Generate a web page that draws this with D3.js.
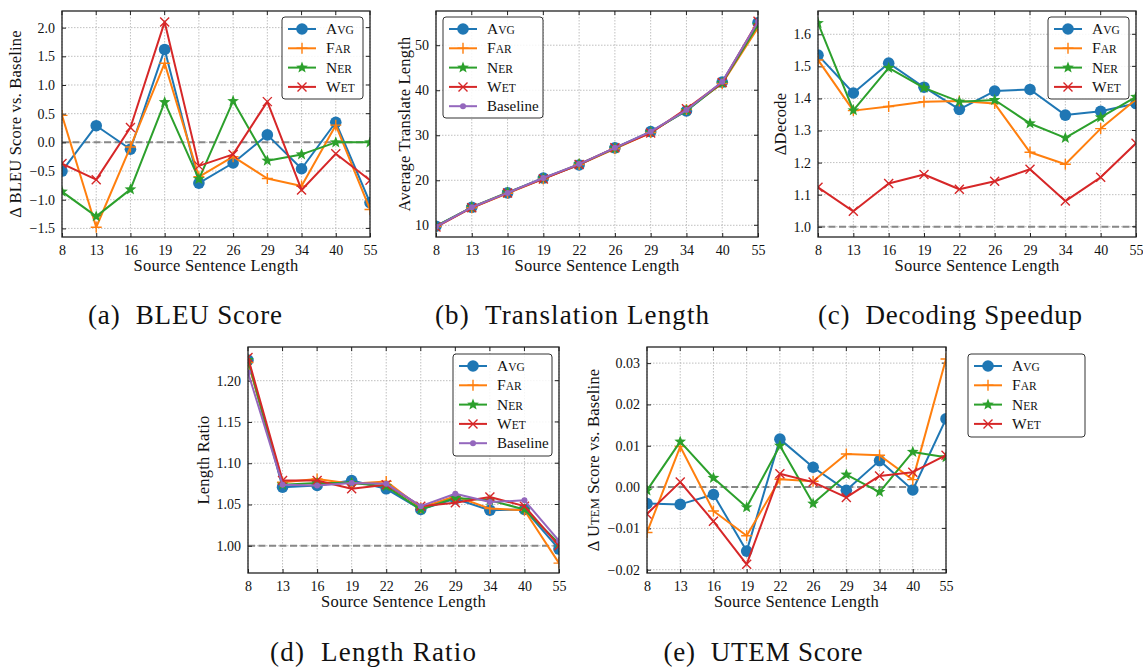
<!DOCTYPE html>
<html>
<head>
<meta charset="utf-8">
<script src="https://cdn.jsdelivr.net/npm/d3@7"></script>
<style>
  body { margin: 0; background: #fff; }
  svg { display: block; font-family: "Liberation Serif", "DejaVu Serif", serif; }
</style>
</head>
<body>
<svg width="1143" height="667"></svg>
<script>
// source sentence length buckets (categorical x axis)
var lengths = ["8", "13", "16", "19", "22", "26", "29", "34", "40", "55"];

// (a) BLEU delta vs baseline
var bleuAvg = [-0.50, 0.29, -0.12, 1.62, -0.71, -0.36, 0.13, -0.46, 0.35, -1.05];
var bleuFar = [0.47, -1.48, -0.08, 1.38, -0.60, -0.25, -0.63, -0.76, 0.30, -1.17];
var bleuNer = [-0.86, -1.29, -0.82, 0.70, -0.64, 0.72, -0.32, -0.21, 0.00, 0.00];
var bleuWet = [-0.37, -0.65, 0.26, 2.10, -0.41, -0.21, 0.71, -0.83, -0.20, -0.66];
var bleuTicks = [-1.5, -1.0, -0.5, 0.0, 0.5, 1.0, 1.5, 2.0];

// (b) average translate length
var lenAvg = [9.8, 14.0, 17.2, 20.5, 23.4, 27.2, 30.8, 35.4, 41.8, 55.0];
var lenFar = [9.7, 13.9, 17.1, 20.3, 23.5, 27.0, 30.6, 35.7, 41.5, 53.9];
var lenNer = [9.8, 14.0, 17.3, 20.4, 23.6, 27.1, 30.7, 35.5, 41.6, 54.5];
var lenWet = [9.6, 13.9, 17.2, 20.3, 23.5, 27.2, 30.5, 35.9, 41.7, 55.3];
var lenBase = [9.7, 14.0, 17.2, 20.5, 23.6, 27.2, 30.8, 35.6, 41.9, 55.2];
var lenTicks = [10, 20, 30, 40, 50];

// (c) decoding speedup
var speedAvg = [1.535, 1.417, 1.510, 1.435, 1.366, 1.423, 1.428, 1.348, 1.360, 1.384];
var speedFar = [1.520, 1.362, 1.375, 1.390, 1.392, 1.384, 1.232, 1.195, 1.306, 1.397];
var speedNer = [1.635, 1.363, 1.495, 1.433, 1.390, 1.395, 1.322, 1.277, 1.341, 1.405];
var speedWet = [1.123, 1.048, 1.135, 1.163, 1.117, 1.142, 1.179, 1.080, 1.154, 1.260];
var speedTicks = [1.0, 1.1, 1.2, 1.3, 1.4, 1.5, 1.6];

// (d) length ratio
var ratioAvg = [1.225, 1.071, 1.073, 1.079, 1.069, 1.044, 1.057, 1.043, 1.044, 0.996];
var ratioFar = [1.222, 1.077, 1.081, 1.075, 1.078, 1.046, 1.060, 1.045, 1.043, 0.979];
var ratioNer = [1.225, 1.074, 1.076, 1.076, 1.072, 1.044, 1.058, 1.055, 1.044, 1.003];
var ratioWet = [1.228, 1.079, 1.079, 1.069, 1.074, 1.048, 1.052, 1.059, 1.048, 1.000];
var ratioBase = [1.210, 1.074, 1.073, 1.076, 1.075, 1.048, 1.063, 1.053, 1.055, 1.006];
var ratioTicks = [1.00, 1.05, 1.10, 1.15, 1.20];

// (e) UTEM delta vs baseline
var utemAvg = [-0.0040, -0.0042, -0.0018, -0.0155, 0.0116, 0.0048, -0.0008, 0.0064, -0.0007, 0.0165];
var utemFar = [-0.0110, 0.0098, -0.0058, -0.0118, 0.0019, 0.0014, 0.0080, 0.0077, 0.0018, 0.0310];
var utemNer = [-0.0008, 0.0110, 0.0022, -0.0049, 0.0100, -0.0040, 0.0030, -0.0012, 0.0085, 0.0072];
var utemWet = [-0.0065, 0.0012, -0.0083, -0.0187, 0.0032, 0.0012, -0.0025, 0.0027, 0.0036, 0.0077];
var utemTicks = [-0.02, -0.01, 0.00, 0.01, 0.02, 0.03];

var colors = { avg: "#1f77b4", far: "#ff7f0e", ner: "#2ca02c", wet: "#d62728", base: "#9467bd" };
var minus = function (s) { return s.replace("-", "\u2212"); };

var svg = d3.select("svg");

function starPath(r) {
    var pts = [];
    for (var i = 0; i < 10; i++) {
        var rr = i % 2 === 0 ? r : r * 0.42;
        var a = -Math.PI / 2 + i * Math.PI / 5;
        pts.push([rr * Math.cos(a), rr * Math.sin(a)]);
    }
    return "M" + pts.map(p => p[0].toFixed(2) + "," + p[1].toFixed(2)).join("L") + "Z";
}

function drawMarker(g, kind, color, x, y) {
    if (kind === "circle") {
        g.append("circle").attr("cx", x).attr("cy", y).attr("r", 5.8).attr("fill", color);
    } else if (kind === "dot") {
        g.append("circle").attr("cx", x).attr("cy", y).attr("r", 3).attr("fill", color);
    } else if (kind === "plus") {
        g.append("path").attr("d", "M" + (x - 5.5) + "," + y + "H" + (x + 5.5) + "M" + x + "," + (y - 5.5) + "V" + (y + 5.5))
            .attr("stroke", color).attr("stroke-width", 1.4);
    } else if (kind === "x") {
        g.append("path").attr("d", "M" + (x - 4.5) + "," + (y - 4.5) + "L" + (x + 4.5) + "," + (y + 4.5) + "M" + (x - 4.5) + "," + (y + 4.5) + "L" + (x + 4.5) + "," + (y - 4.5))
            .attr("stroke", color).attr("stroke-width", 1.4);
    } else if (kind === "star") {
        g.append("path").attr("d", starPath(6.2)).attr("transform", "translate(" + x + "," + y + ")").attr("fill", color);
    }
}

// small caps label: first letter big, rest smaller uppercase
function smallCaps(text, name, big, small) {
    text.append("tspan").attr("font-size", big).text(name[0]);
    text.append("tspan").attr("font-size", small).text(name.slice(1).toUpperCase());
}

function drawPanel(p) {
    var x = d3.scalePoint().domain(lengths).range([p.left, p.right]);
    var y = d3.scaleLinear().domain(p.domain).range([p.bottom, p.top]);
    var g = svg.append("g");

    // grid
    g.append("g").selectAll("line").data(lengths).join("line")
        .attr("x1", d => x(d)).attr("x2", d => x(d)).attr("y1", p.top).attr("y2", p.bottom)
        .attr("stroke", "#b0b0b0").attr("stroke-width", 0.8).attr("stroke-dasharray", "1.5,1.5");
    g.append("g").selectAll("line").data(p.ticks).join("line")
        .attr("x1", p.left).attr("x2", p.right).attr("y1", d => y(d)).attr("y2", d => y(d))
        .attr("stroke", "#b0b0b0").attr("stroke-width", 0.8).attr("stroke-dasharray", "1.5,1.5");

    // reference dashed line
    if (p.ref !== undefined) {
        g.append("line").attr("x1", p.left).attr("x2", p.right).attr("y1", y(p.ref)).attr("y2", y(p.ref))
            .attr("stroke", "#888").attr("stroke-width", 2).attr("stroke-dasharray", "7,3.5");
    }

    // axes with inward ticks
    var xAxis = d3.axisBottom(x).tickSizeInner(-4).tickSizeOuter(0).tickPadding(8);
    var yAxis = d3.axisLeft(y).tickValues(p.ticks).tickFormat(d => minus(p.fmt(d))).tickSizeInner(-4).tickSizeOuter(0).tickPadding(7);
    var ax = g.append("g").attr("transform", "translate(0," + p.bottom + ")").call(xAxis);
    var ay = g.append("g").attr("transform", "translate(" + p.left + ",0)").call(yAxis);
    [ax, ay].forEach(a => {
        a.select(".domain").remove();
        a.selectAll("text").attr("font-family", "Liberation Serif").attr("font-size", 14).attr("fill", "#111");
        a.selectAll("line").attr("stroke", "#222");
    });
    g.append("g").selectAll("line").data(lengths).join("line")
        .attr("x1", d => x(d)).attr("x2", d => x(d)).attr("y1", p.top).attr("y2", p.top + 4).attr("stroke", "#222");
    g.append("g").selectAll("line").data(p.ticks).join("line")
        .attr("x1", p.right - 4).attr("x2", p.right).attr("y1", d => y(d)).attr("y2", d => y(d)).attr("stroke", "#222");

    // series
    var line = d3.line().x((d, i) => x(lengths[i])).y(d => y(d));
    var clip = "clip" + p.id;
    svg.append("clipPath").attr("id", clip).append("rect")
        .attr("x", p.left).attr("y", p.top).attr("width", p.right - p.left).attr("height", p.bottom - p.top);
    var sg = g.append("g").attr("clip-path", "url(#" + clip + ")");
    p.series.forEach(s => {
        var ss = sg.append("g");
        ss.append("path").attr("d", line(s.values)).attr("fill", "none")
            .attr("stroke", s.color).attr("stroke-width", 2).attr("stroke-linejoin", "round");
        s.values.forEach((v, i) => drawMarker(ss, s.marker, s.color, x(lengths[i]), y(v)));
    });

    // frame
    g.append("rect").attr("x", p.left).attr("y", p.top).attr("width", p.right - p.left).attr("height", p.bottom - p.top)
        .attr("fill", "none").attr("stroke", "#222").attr("stroke-width", 1.3);

    // axis labels
    g.append("text").attr("x", (p.left + p.right) / 2).attr("y", p.bottom + 34)
        .attr("text-anchor", "middle").attr("font-size", 16.5).attr("letter-spacing", 0.2).attr("fill", "#111")
        .text("Source Sentence Length");
    var yl = g.append("text").attr("transform", "translate(" + p.ylabelX + "," + (p.top + p.bottom) / 2 + ") rotate(-90)")
        .attr("text-anchor", "middle").attr("font-size", 16.5).attr("letter-spacing", 0.2).attr("fill", "#111");
    p.ylabel(yl);

    // legend
    var L = p.legend;
    var lg = g.append("g");
    lg.append("rect").attr("x", L.x).attr("y", L.y).attr("width", L.w).attr("height", L.h).attr("rx", 3)
        .attr("fill", "#fff").attr("fill-opacity", 0.85).attr("stroke", "#333").attr("stroke-width", 1);
    p.series.forEach((s, i) => {
        var cy = L.y + 12 + i * 19.3;
        lg.append("line").attr("x1", L.x + 6).attr("x2", L.x + 34).attr("y1", cy).attr("y2", cy)
            .attr("stroke", s.color).attr("stroke-width", 2);
        drawMarker(lg, s.marker, s.color, L.x + 20, cy);
        var t = lg.append("text").attr("x", L.x + 44).attr("y", cy + 5).attr("fill", "#111");
        if (s.name === "Baseline") t.attr("font-size", 15).text("Baseline");
        else smallCaps(t, s.name, 15.5, 11.5);
    });

    // caption
    svg.append("text").attr("x", p.capX).attr("y", p.capY).attr("text-anchor", "middle")
        .attr("font-size", 27).attr("fill", "#111").style("white-space", "pre")
        .attr("textLength", p.capW).attr("lengthAdjust", "spacing")
        .text(p.caption);
}

function fourSeries(a, f, n, w) {
    return [
        { name: "Avg", values: a, color: colors.avg, marker: "circle" },
        { name: "Far", values: f, color: colors.far, marker: "plus" },
        { name: "Ner", values: n, color: colors.ner, marker: "star" },
        { name: "Wet", values: w, color: colors.wet, marker: "x" }
    ];
}

drawPanel({
    id: "a", left: 62, right: 370, top: 11, bottom: 237, domain: [-1.65, 2.29], ticks: bleuTicks,
    fmt: d3.format(".1f"), ref: 0, series: fourSeries(bleuAvg, bleuFar, bleuNer, bleuWet),
    ylabelX: 21, ylabel: t => t.text("\u0394 BLEU Score vs. Baseline"),
    legend: { x: 282, y: 17, w: 81, h: 82 }, caption: "(a)  BLEU Score", capX: 185, capY: 324, capW: 194
});

var fiveB = fourSeries(lenAvg, lenFar, lenNer, lenWet);
fiveB.push({ name: "Baseline", values: lenBase, color: colors.base, marker: "dot" });
drawPanel({
    id: "b", left: 436, right: 758, top: 11, bottom: 237, domain: [7.4, 57.6], ticks: lenTicks,
    fmt: d3.format("d"), series: fiveB,
    ylabelX: 410, ylabel: t => t.text("Average Translate Length"),
    legend: { x: 443, y: 17, w: 100, h: 101 }, caption: "(b)  Translation Length", capX: 572, capY: 324, capW: 274
});

drawPanel({
    id: "c", left: 818, right: 1136, top: 11, bottom: 237, domain: [0.968, 1.6726], ticks: speedTicks,
    fmt: d3.format(".1f"), ref: 1.0, series: fourSeries(speedAvg, speedFar, speedNer, speedWet),
    ylabelX: 786, ylabel: t => t.text("\u0394Decode"),
    legend: { x: 1048, y: 17, w: 81, h: 82 }, caption: "(c)  Decoding Speedup", capX: 950, capY: 324, capW: 264
});

var fiveD = fourSeries(ratioAvg, ratioFar, ratioNer, ratioWet);
fiveD.push({ name: "Baseline", values: ratioBase, color: colors.base, marker: "dot" });
drawPanel({
    id: "d", left: 248, right: 559, top: 347, bottom: 573, domain: [0.967, 1.2408], ticks: ratioTicks,
    fmt: d3.format(".2f"), ref: 1.0, series: fiveD,
    ylabelX: 209, ylabel: t => t.text("Length Ratio"),
    legend: { x: 453, y: 354, w: 99, h: 102 }, caption: "(d)  Length Ratio", capX: 373, capY: 661, capW: 206
});

drawPanel({
    id: "e", left: 647, right: 946, top: 347, bottom: 573, domain: [-0.0208, 0.0339], ticks: utemTicks,
    fmt: d3.format(".2f"), ref: 0, series: fourSeries(utemAvg, utemFar, utemNer, utemWet),
    ylabelX: 599, ylabel: t => {
        t.append("tspan").text("\u0394 U");
        t.append("tspan").attr("font-size", 12.5).text("TEM");
        t.append("tspan").text(" Score vs. Baseline");
    },
    legend: { x: 968, y: 354, w: 117, h: 83 }, caption: "(e)  UTEM Score", capX: 763, capY: 661, capW: 199
});
</script>
</body>
</html>
